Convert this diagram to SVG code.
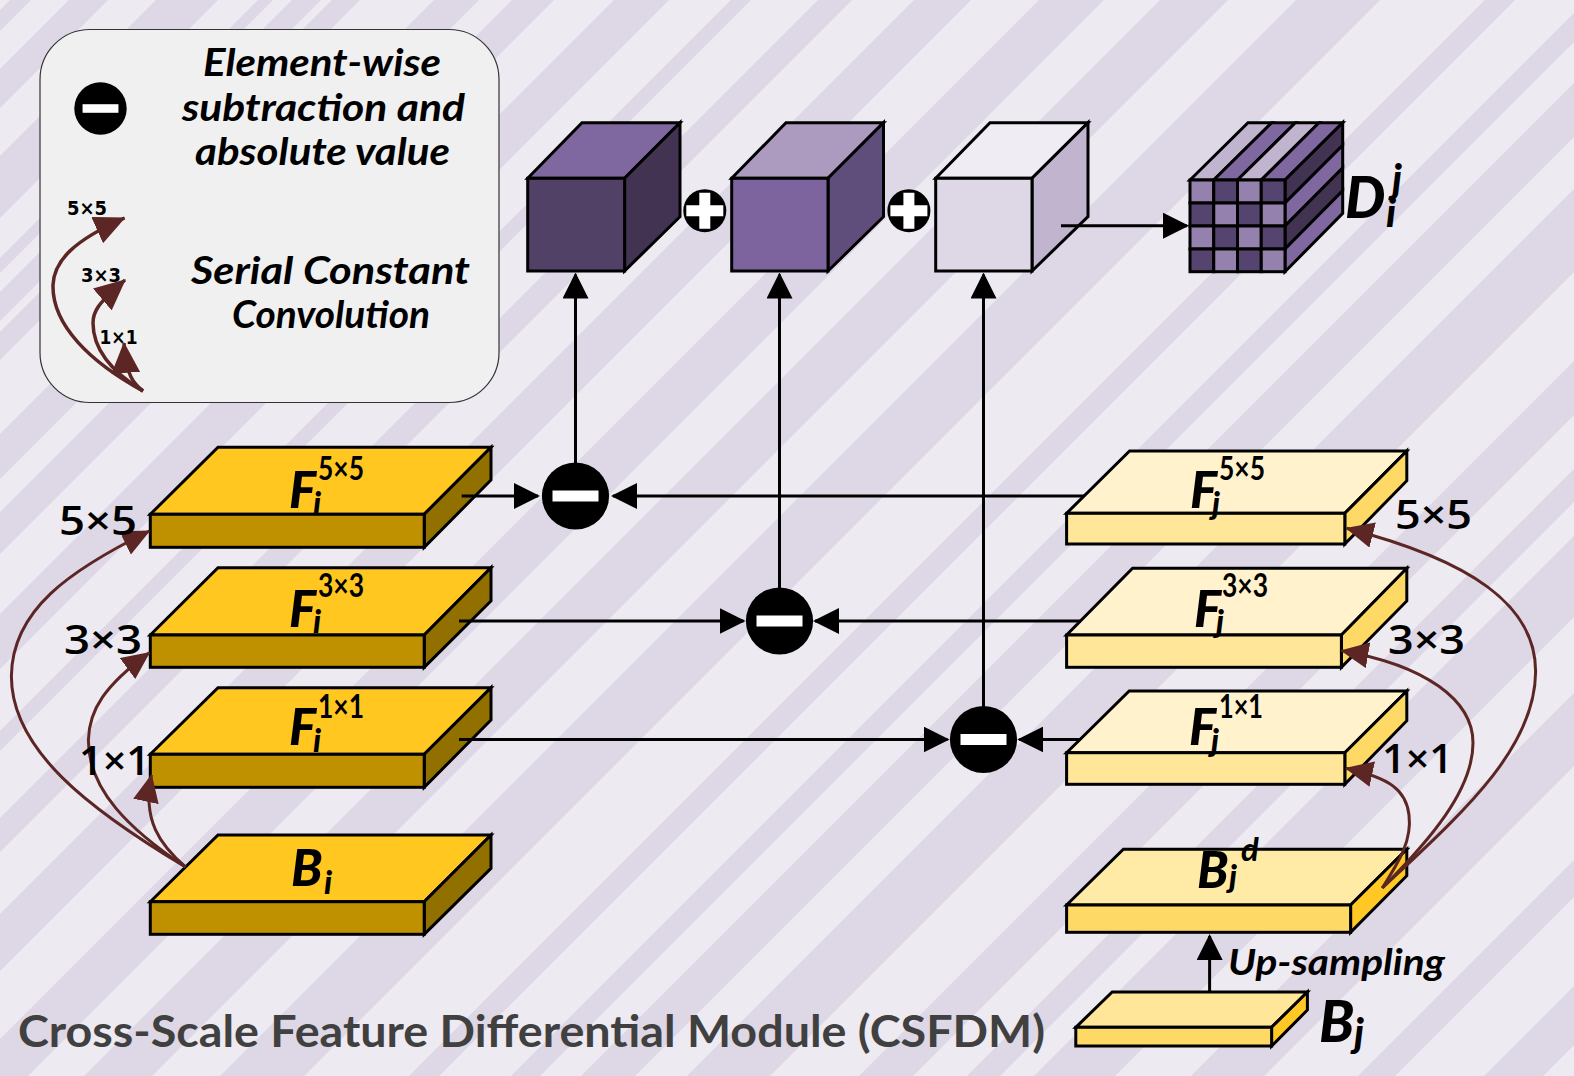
<svg xmlns="http://www.w3.org/2000/svg" width="1574" height="1076" viewBox="0 0 1574 1076">
<style>
.s{stroke:#000;stroke-width:3;stroke-linejoin:miter}
.ot{fill:#FFC720}.of{fill:#BF9000}.os{fill:#917000}
.yt{fill:#FFF2CC}.yf{fill:#FFE699}.ys{fill:#FFD966}
.c{font-family:"Lato","Noto Sans",sans-serif;font-weight:700;font-style:italic;fill:#000}
.h{font-family:"Lato","Noto Sans",sans-serif;font-weight:900;font-style:italic;fill:#000}
.f{font-family:"Lato","Noto Sans",sans-serif;font-weight:900;font-style:italic;font-size:51px;fill:#000}
.sb{font-family:"Lato","Noto Sans",sans-serif;font-weight:900;font-style:italic;font-size:32px;fill:#000}
.sp{font-family:"Lato","Noto Sans",sans-serif;font-weight:700;font-size:32px;fill:#000}
.k{font-family:"Open Sans","Noto Sans",sans-serif;font-weight:600;font-size:40px;fill:#000}
.m{font-family:"DejaVu Sans",sans-serif;font-weight:700;font-size:19px;fill:#000}
.l{fill:none;stroke:#000;stroke-width:3}
.b{fill:none;stroke:#5C2624;stroke-width:3}
.bl{fill:none;stroke:#5C2624;stroke-width:3.500}
</style>
<defs>
<marker id="ah" viewBox="0 0 26 26" refX="24" refY="13" markerWidth="26" markerHeight="26" markerUnits="userSpaceOnUse" orient="auto"><path d="M0 0L26 13L0 26Z" fill="#000"/></marker>
<marker id="bh" viewBox="0 0 28 26" refX="27" refY="13" markerWidth="28" markerHeight="26" markerUnits="userSpaceOnUse" orient="auto"><path d="M0 0L28 13L0 26Z" fill="#5C2624"/></marker>
<marker id="bg" viewBox="0 0 28 26" refX="27" refY="13" markerWidth="31" markerHeight="29" markerUnits="userSpaceOnUse" orient="auto"><path d="M0 0L28 13L0 26Z" fill="#5C2624"/></marker>
<g id="minus"><circle r="33.6" fill="#000"/><rect x="-23" y="-5.500" width="46" height="11" fill="#fff"/></g>
<g id="plus"><circle r="21.500" fill="#000"/><path d="M-5.500 -18H5.500V-5.500H18.500V5.500H5.500V18H-5.500V5.500H-18.500V-5.500H-5.500Z" fill="#fff"/></g>
</defs>
<rect width="1574" height="1076" fill="#EDEAF2"/>
<path fill="#DED7E6" d="M10 0H31L0 31V10ZM69 0H108L0 108V69ZM156 0H218L0 218V156ZM258 0H273L0 273V258ZM292 0H321L0 321V292ZM332 0H360L0 360V332ZM434 0H479L0 479V434ZM512 0H554L0 554V512ZM614 0H669L0 669V614ZM731 0H751L0 751V731ZM818 0H852L0 852V818ZM914 0H971L0 971V914ZM1039 0H1104L0 1104V1039ZM1160 0H1228L0 1228V1160ZM1296 0H1380L0 1380V1296ZM1485 0H1515L0 1515V1485ZM1587 0H1616L0 1616V1587ZM1657 0H1711L0 1711V1657ZM1763 0H1846L0 1846V1763ZM1935 0H1989L0 1989V1935ZM2043 0H2076L0 2076V2043ZM2110 0H2191L0 2191V2110ZM2267 0H2340L0 2340V2267ZM2434 0H2471L0 2471V2434ZM2560 0H2619L0 2619V2560Z"/>

<g id="legend">
<rect x="40" y="29.500" width="459" height="373" rx="50" fill="#F0F0F0" stroke="#333" stroke-width="1.200"/>
<use href="#minus" transform="translate(100.500 108.500) scale(.78)"/>
<text class="c" font-size="38" x="203" y="76" textLength="238" lengthAdjust="spacingAndGlyphs">Element-wise</text>
<text class="c" font-size="38" x="182" y="120.500" textLength="283" lengthAdjust="spacingAndGlyphs">subtraction and</text>
<text class="c" font-size="38" x="195" y="165" textLength="255" lengthAdjust="spacingAndGlyphs">absolute value</text>
<text class="c" font-size="38" x="191" y="284" textLength="279" lengthAdjust="spacingAndGlyphs">Serial Constant</text>
<text class="c" font-size="38" x="232" y="328" textLength="198" lengthAdjust="spacingAndGlyphs">Convolution</text>
<path class="bl" marker-end="url(#bg)" d="M143 391C90 362 52 325 53 285C54 260 75 240 124.500 218"/>
<path class="bl" marker-end="url(#bg)" d="M143 391C112 372 93 350 93 323C93 312 97 304 125 280"/>
<path class="bl" marker-end="url(#bg)" d="M143 391C134 384 126 376 124 343"/>
<text class="m" x="67" y="215" textLength="40" lengthAdjust="spacingAndGlyphs">5×5</text>
<text class="m" x="81" y="282" textLength="40" lengthAdjust="spacingAndGlyphs">3×3</text>
<text class="m" x="99.500" y="344" textLength="38" lengthAdjust="spacingAndGlyphs">1×1</text>
</g>

<g id="cube1" class="s">
<path fill="#7F67A0" d="M527.700 178.300L582 122.700H680L624.600 178.300Z"/>
<path fill="#423352" d="M624.600 178.300L680 122.700V216.700L624.600 271Z"/>
<rect fill="#524166" x="527.700" y="178.300" width="96.900" height="92.700"/>
</g>
<g id="cube2" class="s">
<path fill="#AC9BBF" d="M731.700 178.300L786 122.700H883.500L828 178.300Z"/>
<path fill="#5F4E7C" d="M828 178.300L883.500 122.700V216.700L828 271Z"/>
<rect fill="#7D649E" x="731.700" y="178.300" width="96.300" height="92.700"/>
</g>
<g id="cube3" class="s">
<path fill="#EFEDF3" d="M935.700 178.300L990 122.700H1088L1032 178.300Z"/>
<path fill="#C1B4CF" d="M1032 178.300L1088 122.700V216.700L1032 271Z"/>
<rect fill="#DED7E6" x="935.700" y="178.300" width="96.300" height="92.700"/>
</g>
<use id="plus1" href="#plus" x="704.800" y="210.700"/>
<use id="plus2" href="#plus" x="908.900" y="210.700"/>

<g id="tensor" class="s">
<path fill="#C1B4CF" d="M1190 180L1248 122.700H1271.700L1213.700 180Z"/>
<path fill="#7F67A0" d="M1213.700 180L1271.700 122.700H1295.400L1237.500 180Z"/>
<path fill="#C1B4CF" d="M1237.500 180L1295.400 122.700H1319L1261.200 180Z"/>
<path fill="#7F67A0" d="M1261.200 180L1319 122.700H1342.700L1285 180Z"/>
<path fill="#423352" d="M1285 180L1342.700 122.700V145.300L1285 203Z"/>
<path fill="#7F67A0" d="M1285 203L1342.700 145.300V168L1285 226Z"/>
<path fill="#423352" d="M1285 226L1342.700 168V190.700L1285 249Z"/>
<path fill="#7F67A0" d="M1285 249L1342.700 190.700V213.300L1285 271.700Z"/>
<g>
<rect fill="#9581AE" x="1190" y="180" width="23.750" height="23"/><rect fill="#55446F" x="1213.750" y="180" width="23.750" height="23"/><rect fill="#9581AE" x="1237.500" y="180" width="23.750" height="23"/><rect fill="#55446F" x="1261.250" y="180" width="23.750" height="23"/>
<rect fill="#55446F" x="1190" y="203" width="23.750" height="23"/><rect fill="#9581AE" x="1213.750" y="203" width="23.750" height="23"/><rect fill="#55446F" x="1237.500" y="203" width="23.750" height="23"/><rect fill="#9581AE" x="1261.250" y="203" width="23.750" height="23"/>
<rect fill="#9581AE" x="1190" y="226" width="23.750" height="23"/><rect fill="#55446F" x="1213.750" y="226" width="23.750" height="23"/><rect fill="#9581AE" x="1237.500" y="226" width="23.750" height="23"/><rect fill="#55446F" x="1261.250" y="226" width="23.750" height="23"/>
<rect fill="#55446F" x="1190" y="249" width="23.750" height="22.700"/><rect fill="#9581AE" x="1213.750" y="249" width="23.750" height="22.700"/><rect fill="#55446F" x="1237.500" y="249" width="23.750" height="22.700"/><rect fill="#9581AE" x="1261.250" y="249" width="23.750" height="22.700"/>
</g>
</g>
<g id="label-D">
<text class="h" font-size="57" x="1345" y="218">D</text>
<text class="h" font-size="40" x="1392" y="193">j</text>
<text class="h" font-size="40" x="1386" y="227">i</text>
</g>

<g id="F5i">
<path class="s ot" d="M150.300 514.300L218 447.300H491L424.200 514.300Z"/>
<path class="s os" d="M424.200 514.300L491 447.300V480L424.200 547.300Z"/>
<rect class="s of" x="150.300" y="514.300" width="273.900" height="33"/>
<text class="f" x="289" y="508">F</text><text class="sb" x="313" y="515">i</text>
<text class="sp" x="318" y="480" textLength="46" lengthAdjust="spacingAndGlyphs">5×5</text>
</g>
<g id="F3i">
<path class="s ot" d="M150.300 635L218 567.700H491L424.200 635Z"/>
<path class="s os" d="M424.200 635L491 567.700V601L424.200 667.300Z"/>
<rect class="s of" x="150.300" y="635" width="273.900" height="32.300"/>
<text class="f" x="289" y="626.700">F</text><text class="sb" x="313" y="633">i</text>
<text class="sp" x="318" y="596.700" textLength="46" lengthAdjust="spacingAndGlyphs">3×3</text>
</g>
<g id="F1i">
<path class="s ot" d="M150.300 754.300L218 687.700H491L424.200 754.300Z"/>
<path class="s os" d="M424.200 754.300L491 687.700V720L424.200 787.300Z"/>
<rect class="s of" x="150.300" y="754.300" width="273.900" height="33"/>
<text class="f" x="289" y="745">F</text><text class="sb" x="313" y="752">i</text>
<text class="sp" x="318" y="718" textLength="46" lengthAdjust="spacingAndGlyphs">1×1</text>
</g>
<g id="Bi">
<path class="s ot" d="M150.300 901.700L218 835H491L424.200 901.700Z"/>
<path class="s os" d="M424.200 901.700L491 835V868.300L424.200 934.300Z"/>
<rect class="s of" x="150.300" y="901.700" width="273.900" height="32.600"/>
<text class="f" x="291" y="886">B</text><text class="sb" x="324" y="894">i</text>
</g>

<g id="F5j">
<path class="s yt" d="M1066.600 513.300L1129.600 451H1406.800L1344.800 513.300Z"/>
<path class="s ys" d="M1344.800 513.300L1406.800 451V480.700L1344.800 544Z"/>
<rect class="s yf" x="1066.600" y="513.300" width="278.200" height="30.700"/>
<text class="f" x="1190" y="508">F</text><text class="sb" x="1212" y="515">j</text>
<text class="sp" x="1219" y="480" textLength="46" lengthAdjust="spacingAndGlyphs">5×5</text>
</g>
<g id="F3j">
<path class="s yt" d="M1066.600 635L1132.600 568.300H1406.800L1341.400 635Z"/>
<path class="s ys" d="M1341.400 635L1406.800 568.300V601L1341.400 667.300Z"/>
<rect class="s yf" x="1066.600" y="635" width="274.800" height="32.300"/>
<text class="f" x="1194" y="626.700">F</text><text class="sb" x="1216" y="633">j</text>
<text class="sp" x="1222" y="596.700" textLength="46" lengthAdjust="spacingAndGlyphs">3×3</text>
</g>
<g id="F1j">
<path class="s yt" d="M1066.600 752.700L1129.200 691H1406.800L1344.800 752.700Z"/>
<path class="s ys" d="M1344.800 752.700L1406.800 691V720.700L1344.800 784.300Z"/>
<rect class="s yf" x="1066.600" y="752.700" width="278.200" height="31.600"/>
<text class="f" x="1189" y="745">F</text><text class="sb" x="1211" y="752">j</text>
<text class="sp" x="1219" y="718" textLength="44" lengthAdjust="spacingAndGlyphs">1×1</text>
</g>
<g id="Bjd">
<path class="s" fill="#FFEAA6" d="M1066.600 905L1123.400 849.300H1406.800L1350.600 905Z"/>
<path class="s" fill="#FFC825" d="M1350.600 905L1406.800 849.300V875.700L1350.600 932.300Z"/>
<rect class="s ys" x="1066.600" y="905" width="284" height="27.300"/>
<text class="f" x="1197" y="888">B</text><text class="sb" x="1229" y="888">j</text>
<text class="c" font-size="33" x="1241" y="860.700">d</text>
</g>
<g id="Bj">
<path class="s yf" d="M1075.800 1027.300L1112.200 992H1307.400L1271.600 1027.300Z"/>
<path class="s" fill="#FFC825" d="M1271.600 1027.300L1307.400 992V1010L1271.600 1046Z"/>
<rect class="s ys" x="1075.800" y="1027.300" width="195.800" height="18.700"/>
<text class="h" font-size="57" x="1319" y="1041.700">B</text>
<text class="h" font-size="40" x="1354" y="1047">j</text>
</g>

<use id="diff1" href="#minus" x="575.500" y="496"/>
<use id="diff2" href="#minus" x="779.500" y="621"/>
<use id="diff3" href="#minus" x="983.500" y="739.500"/>

<g id="connectors">
<path class="l" marker-end="url(#ah)" d="M1061 225.700H1187"/>
<path class="l" marker-end="url(#ah)" d="M575.500 464V274.500"/>
<path class="l" marker-end="url(#ah)" d="M779.500 589V274.500"/>
<path class="l" marker-end="url(#ah)" d="M983.500 707V274.500"/>
<path class="l" marker-end="url(#ah)" d="M461.700 496H538"/>
<path class="l" marker-end="url(#ah)" d="M1084 496H613"/>
<path class="l" marker-end="url(#ah)" d="M459 621H743.500"/>
<path class="l" marker-end="url(#ah)" d="M1081 621H815"/>
<path class="l" marker-end="url(#ah)" d="M459 739.500H947.500"/>
<path class="l" marker-end="url(#ah)" d="M1080 739.500H1019.300"/>
<path class="l" marker-end="url(#ah)" d="M1209.600 992V936"/>
<path class="b" marker-end="url(#bh)" d="M185.600 867C90 810 11 750 11.400 676C12 610 70 570 149.400 531"/>
<path class="b" marker-end="url(#bh)" d="M185.600 867C130 830 88 790 88.400 740C89 710 105 685 149.400 652.700"/>
<path class="b" marker-end="url(#bh)" d="M185.600 867C160 845 142 820 151.500 775"/>
<path class="b" marker-end="url(#bh)" d="M1382.300 888C1400 860 1412 840 1409 815C1406 790 1390 778 1345.900 768.300"/>
<path class="b" marker-end="url(#bh)" d="M1382.300 888C1430 840 1473 790 1473 743C1473 700 1425 665 1341.400 650.700"/>
<path class="b" marker-end="url(#bh)" d="M1382.300 888C1460 815 1535 750 1535.600 672C1536 605 1470 560 1346.500 528.300"/>
</g>

<g id="scale-labels">
<text class="k" x="59" y="535" textLength="78" lengthAdjust="spacingAndGlyphs">5×5</text>
<text class="k" x="64" y="654" textLength="78" lengthAdjust="spacingAndGlyphs">3×3</text>
<text class="k" x="79" y="775" textLength="71" lengthAdjust="spacingAndGlyphs">1×1</text>
<text class="k" x="1395" y="529" textLength="77" lengthAdjust="spacingAndGlyphs">5×5</text>
<text class="k" x="1388" y="654" textLength="77" lengthAdjust="spacingAndGlyphs">3×3</text>
<text class="k" x="1382" y="772.700" textLength="71" lengthAdjust="spacingAndGlyphs">1×1</text>
</g>
<text class="c" font-size="36" x="1228" y="975" textLength="217" lengthAdjust="spacingAndGlyphs">Up-sampling</text>
<text font-family="Lato,'Noto Sans',sans-serif" font-weight="700" font-size="44" fill="#404040" x="18" y="1047" textLength="1027" lengthAdjust="spacingAndGlyphs">Cross-Scale Feature Differential Module (CSFDM)</text>
</svg>
